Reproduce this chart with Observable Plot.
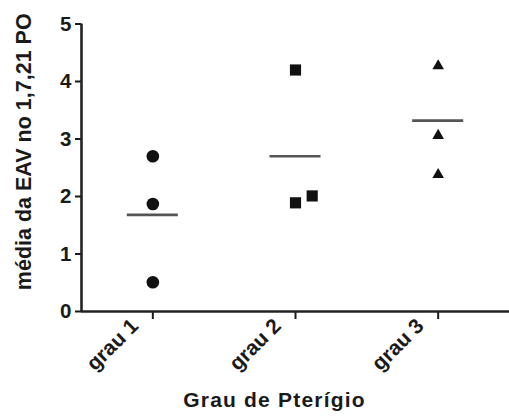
<!DOCTYPE html>
<html>
<head>
<meta charset="utf-8">
<script src="https://cdn.jsdelivr.net/npm/d3@7"></script>
<script src="https://cdn.jsdelivr.net/npm/@observablehq/plot@0.6"></script>
<style>
  html, body { margin: 0; padding: 0; background: #fff; }
  #chart svg { display: block; }
</style>
</head>
<body>
<div id="chart"></div>
<script>
const categories = ["grau 1", "grau 2", "grau 3"];
const symbols = ["circle", "square", "triangle"];
const pointGroup = [1, 1, 1, 2, 2, 2, 3, 3, 3];
const pointValue = [2.70, 1.87, 0.51, 4.20, 1.89, 2.01, 4.27, 3.06, 2.38];
const pointJitter = [0, 0, 0, 0, 0, 0.117, 0, 0, 0];
const meanValue = [1.68, 2.70, 3.32];
const yTicks = [0, 1, 2, 3, 4, 5];
const xTitle = "Grau de Pterígio";
const yTitle = "média da EAV no 1,7,21 PO";

const points = pointValue.map((v, i) => ({
  x: pointGroup[i] + pointJitter[i],
  y: v,
  symbol: symbols[pointGroup[i] - 1]
}));
const means = meanValue.map((v, i) => ({ g: i + 1, y: v }));
const half = 0.179;
const font = "'Liberation Sans', Arial, Helvetica, sans-serif";

const chart = Plot.plot({
  width: 509,
  height: 417,
  marginLeft: 81,
  marginRight: 0,
  marginTop: 23.5,
  marginBottom: 106,
  style: { fontFamily: font, fontWeight: "bold", color: "#1a1a1a", background: "#fff" },
  x: { domain: [0.5, 3.5] },
  y: { domain: [0, 5] },
  symbol: { domain: symbols, range: symbols },
  marks: [
    Plot.axisY({
      ticks: yTicks, tickFormat: "d", tickSize: 6, tickPadding: 4, fontSize: 20.5, strokeWidth: 2,
      label: null
    }),
    Plot.text([yTitle], { frameAnchor: "left", textAnchor: "middle", lineAnchor: "middle", rotate: -90, dx: -57, dy: -16, fontSize: 21.5, fontWeight: "bold", fill: "#1a1a1a" }),
    Plot.axisX({ ticks: [1, 2, 3], tickSize: 8, strokeWidth: 2, text: null, label: null }),
    Plot.axisX({
      ticks: [1, 2, 3], tickFormat: d => categories[d - 1], tickSize: 0, tickPadding: 12,
      tickRotate: -45, fontSize: 21, dx: -18, dy: -1, label: null
    }),
    Plot.text([xTitle], { frameAnchor: "bottom", dx: -21, dy: 95, fontSize: 21, fontWeight: "bold", fill: "#1a1a1a" }),
    Plot.ruleY([0], { stroke: "#222", strokeWidth: 2.6 }),
    Plot.ruleX([0.5], { y1: 0, y2: 5, stroke: "#222", strokeWidth: 2.6 }),
    Plot.ruleY(means, { y: "y", x1: d => d.g - half, x2: d => d.g + half, stroke: "#555", strokeWidth: 2.7 }),
    Plot.dot(points.filter(d => d.symbol !== "triangle"), { x: "x", y: "y", symbol: "symbol", fill: "#111", stroke: "none", r: 6.3 }),
    Plot.dot(points.filter(d => d.symbol === "triangle"), { x: "x", y: "y", symbol: "symbol", fill: "#111", stroke: "none", r: 4.3 })
  ]
});
chart.querySelectorAll("text").forEach(t => {
  if (t.textContent === xTitle) t.setAttribute("letter-spacing", "1.2");
});
document.getElementById("chart").appendChild(chart);
</script>
</body>
</html>
